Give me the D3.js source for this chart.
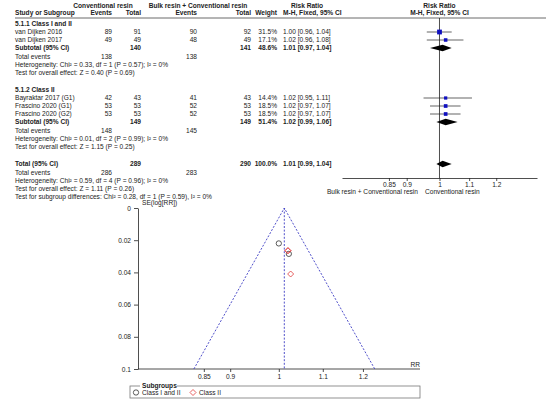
<!DOCTYPE html>
<html>
<head>
<meta charset="utf-8">
<script src="https://cdn.jsdelivr.net/npm/d3@7"></script>
<style>
  body { margin: 0; background: #fff; }
  svg { font-family: "Liberation Sans", Arial, sans-serif; }
  text { fill: #222; }
</style>
</head>
<body>
<div id="chart"></div>
<script>
// chart size
const width = 550
const height = 406
const fs = 6.6

// study level data
const studies = ["van Dijken 2016", "van Dijken 2017", "Bayraktar 2017 (G1)", "Frascino 2020 (G1)", "Frascino 2020 (G2)"]
const groups = [0, 0, 1, 1, 1]
const convEvents = [89, 49, 42, 53, 53]
const convTotal = [91, 49, 43, 53, 53]
const bulkEvents = [90, 48, 41, 52, 52]
const bulkTotal = [92, 49, 43, 53, 53]
const weights = [31.5, 17.1, 14.4, 18.5, 18.5]
const rr = [1.00, 1.02, 1.02, 1.02, 1.02]
const ciLow = [0.96, 0.96, 0.95, 0.97, 0.97]
const ciHigh = [1.04, 1.08, 1.11, 1.07, 1.07]

// subgroup data
const subgroupNames = ["5.1.1 Class I and II", "5.1.2 Class II"]
const subConvTotal = [140, 149]
const subBulkTotal = [141, 149]
const subWeight = [48.6, 51.4]
const subRR = [1.01, 1.02]
const subLow = [0.97, 0.99]
const subHigh = [1.04, 1.06]
const subConvEvents = [138, 148]
const subBulkEvents = [138, 145]
const subHet = ["Chi² = 0.33, df = 1 (P = 0.57); I² = 0%", "Chi² = 0.01, df = 2 (P = 0.99); I² = 0%"]
const subZ = ["Z = 0.40 (P = 0.69)", "Z = 1.15 (P = 0.25)"]

// overall
const totConvTotal = 289
const totBulkTotal = 290
const totWeight = 100.0
const totRR = 1.01
const totLow = 0.99
const totHigh = 1.04
const totConvEvents = 286
const totBulkEvents = 283
const totHet = "Chi² = 0.59, df = 4 (P = 0.96); I² = 0%"
const totZ = "Z = 1.11 (P = 0.26)"
const subgroupDiff = "Chi² = 0.28, df = 1 (P = 0.59), I² = 0%"

// axis ticks
const forestTicks = [0.85, 0.9, 1, 1.1, 1.2]
const funnelXTicks = [0.85, 0.9, 1, 1.1, 1.2]
const funnelYTicks = [0, 0.02, 0.04, 0.06, 0.08, 0.1]

// funnel plot points
const funnelRR = [1.00, 1.022, 1.026, 1.02, 1.02]
const funnelSE = [0.022, 0.0285, 0.041, 0.0265, 0.0265]
const pooledRR = 1.012
const subgroupLabels = ["Class I and II", "Class II"]

const fmt = d3.format(".2f")
const ciText = (r, l, h) => fmt(r) + " [" + fmt(l) + ", " + fmt(h) + "]"
const pct = d => d3.format(".1f")(d) + "%"

const chart = d3.select('#chart')
  .append('svg')
  .attr('width', width)
  .attr('height', height)

// column positions
const col = { name: 15, ce: 112, ct: 141, be: 197, bt: 251, w: 277, ci: 283 }

const txt = function (x, y, s, anchor, bold) {
  return chart.append('text')
    .attr('x', x).attr('y', y)
    .attr('dy', '0.35em')
    .attr('font-size', fs)
    .attr('text-anchor', anchor || 'start')
    .attr('font-weight', bold ? 'bold' : 'normal')
    .text(s)
}

// forest scale
const fx = d3.scaleLog().domain([0.731, 1.368]).range([342, 537])

// headers
txt(103, 6, "Conventional resin", 'middle', true)
txt(198, 6, "Bulk resin + Conventional resin", 'middle', true)
txt(307, 6, "Risk Ratio", 'middle', true)
txt(fx(1), 6, "Risk Ratio", 'middle', true)
txt(col.name, 13, "Study or Subgroup", 'start', true)
txt(col.ce, 13, "Events", 'end', true)
txt(col.ct, 13, "Total", 'end', true)
txt(col.be, 13, "Events", 'end', true)
txt(col.bt, 13, "Total", 'end', true)
txt(col.w, 13, "Weight", 'end', true)
txt(col.ci, 13, "M-H, Fixed, 95% CI", 'start', true)
txt(fx(1), 13, "M-H, Fixed, 95% CI", 'middle', true)

chart.append('line')
  .attr('x1', 15).attr('x2', 546)
  .attr('y1', 18).attr('y2', 18)
  .attr('stroke', '#444').attr('stroke-width', 0.8)

// vertical line of no effect
chart.append('line')
  .attr('x1', fx(1)).attr('x2', fx(1))
  .attr('y1', 18).attr('y2', 178)
  .attr('stroke', '#222').attr('stroke-width', 0.8)

const diamond = function (y, r, l, h, hh) {
  chart.append('path')
    .attr('d', 'M' + fx(l) + ',' + y + 'L' + fx(r) + ',' + (y - hh) + 'L' + fx(h) + ',' + y + 'L' + fx(r) + ',' + (y + hh) + 'Z')
    .attr('fill', '#000')
}

let y = 24
subgroupNames.forEach(function (g, gi) {
  txt(col.name, y, g, 'start', true)
  y += 8
  studies.forEach(function (s, i) {
    if (groups[i] !== gi) return
    txt(col.name, y, s)
    txt(col.ce, y, convEvents[i], 'end')
    txt(col.ct, y, convTotal[i], 'end')
    txt(col.be, y, bulkEvents[i], 'end')
    txt(col.bt, y, bulkTotal[i], 'end')
    txt(col.w, y, pct(weights[i]), 'end')
    txt(col.ci, y, ciText(rr[i], ciLow[i], ciHigh[i]))
    chart.append('line')
      .attr('x1', fx(ciLow[i])).attr('x2', fx(ciHigh[i]))
      .attr('y1', y).attr('y2', y)
      .attr('stroke', '#222').attr('stroke-width', 0.7)
    const side = 4.8 * Math.sqrt(weights[i] / 31.5)
    chart.append('rect')
      .attr('x', fx(rr[i]) - side / 2).attr('y', y - side / 2)
      .attr('width', side).attr('height', side)
      .attr('fill', '#0f0fc0')
    y += 8
  })
  txt(col.name, y, "Subtotal (95% CI)", 'start', true)
  txt(col.ct, y, subConvTotal[gi], 'end', true)
  txt(col.bt, y, subBulkTotal[gi], 'end', true)
  txt(col.w, y, pct(subWeight[gi]), 'end', true)
  txt(col.ci, y, ciText(subRR[gi], subLow[gi], subHigh[gi]), 'start', true)
  diamond(y, subRR[gi], subLow[gi], subHigh[gi], 3.2)
  y += 9
  txt(col.name, y, "Total events")
  txt(col.ce, y, subConvEvents[gi], 'end')
  txt(col.be, y, subBulkEvents[gi], 'end')
  y += 8
  txt(col.name, y, "Heterogeneity: " + subHet[gi])
  y += 8
  txt(col.name, y, "Test for overall effect: " + subZ[gi])
  y += 17
})

y = 164
txt(col.name, y, "Total (95% CI)", 'start', true)
txt(col.ct, y, totConvTotal, 'end', true)
txt(col.bt, y, totBulkTotal, 'end', true)
txt(col.w, y, pct(totWeight), 'end', true)
txt(col.ci, y, ciText(totRR, totLow, totHigh), 'start', true)
diamond(y, totRR, totLow, totHigh, 3.2)
txt(col.name, 173, "Total events")
txt(col.ce, 173, totConvEvents, 'end')
txt(col.be, 173, totBulkEvents, 'end')
txt(col.name, 181, "Heterogeneity: " + totHet)
txt(col.name, 189, "Test for overall effect: " + totZ)
txt(col.name, 197, "Test for subgroup differences: " + subgroupDiff)

// forest axis
const fAxis = chart.append('g')
  .attr('transform', 'translate(0,178)')
  .call(d3.axisBottom(fx).tickValues(forestTicks).tickFormat(d => String(d)).tickSize(3).tickSizeOuter(0))
fAxis.selectAll('path, line').attr('stroke', '#222').attr('stroke-width', 0.8)
fAxis.selectAll('text').attr('font-size', fs).attr('fill', '#222').attr('y', 4)
txt(418, 192, "Bulk resin + Conventional resin", 'end')
txt(425, 192, "Conventional resin", 'start')

// funnel plot
const px = d3.scaleLog().domain([0.737, 1.358]).range([138, 420])
const py = d3.scaleLinear().domain([0, 0.1]).range([208, 369])

const yAxis = chart.append('g')
  .attr('transform', 'translate(138,0)')
  .call(d3.axisLeft(py).tickValues(funnelYTicks).tickFormat(d => String(d)).tickSize(4).tickSizeOuter(0))
const xAxis = chart.append('g')
  .attr('transform', 'translate(0,369)')
  .call(d3.axisBottom(px).tickValues(funnelXTicks).tickFormat(d => String(d)).tickSize(3).tickSizeOuter(0))
xAxis.select('.domain').attr('d', 'M138,0H420')
chart.selectAll('.tick text').attr('font-size', fs).attr('fill', '#222')
yAxis.selectAll('path, line').attr('stroke', '#222').attr('stroke-width', 0.8)
xAxis.selectAll('path, line').attr('stroke', '#222').attr('stroke-width', 0.8)
xAxis.selectAll('text').attr('y', 5)
txt(142, 203, "SE(log[RR])")
txt(420, 365, "RR", 'end')

// funnel lines
const seMax = 0.1
const funnelPts = [
  [pooledRR * Math.exp(-1.96 * seMax), seMax],
  [pooledRR, 0],
  [pooledRR * Math.exp(1.96 * seMax), seMax]
]
chart.append('path')
  .attr('d', d3.line().x(d => px(d[0])).y(d => py(d[1]))(funnelPts))
  .attr('fill', 'none').attr('stroke', '#3c3cc4').attr('stroke-width', 0.9)
  .attr('stroke-dasharray', '2,1.6')
chart.append('line')
  .attr('x1', px(pooledRR)).attr('x2', px(pooledRR))
  .attr('y1', py(0)).attr('y2', py(seMax))
  .attr('stroke', '#3c3cc4').attr('stroke-width', 0.9)
  .attr('stroke-dasharray', '2,1.6')

const circleSym = d3.symbol().type(d3.symbolCircle).size(22)
const diamondPath = s => 'M0,' + (-s) + 'L' + s + ',0L0,' + s + 'L' + (-s) + ',0Z'

studies.forEach(function (s, i) {
  const g = chart.append('g')
    .attr('transform', 'translate(' + px(funnelRR[i]) + ',' + py(funnelSE[i]) + ')')
  if (groups[i] === 0) {
    g.append('path').attr('d', circleSym()).attr('fill', 'none').attr('stroke', '#333').attr('stroke-width', 0.8)
  } else {
    g.append('path').attr('d', diamondPath(3)).attr('fill', 'none').attr('stroke', '#e03a3a').attr('stroke-width', 0.8)
  }
})

// legend
chart.append('rect')
  .attr('x', 130).attr('y', 386).attr('width', 290).attr('height', 12)
  .attr('fill', 'none').attr('stroke', '#777').attr('stroke-width', 0.8)
chart.append('rect')
  .attr('x', 140).attr('y', 382).attr('width', 37).attr('height', 7)
  .attr('fill', '#fff')
txt(142, 385.5, "Subgroups", 'start', true).attr('fill', '#334')
chart.append('path').attr('transform', 'translate(136,392.5)')
  .attr('d', circleSym()).attr('fill', 'none').attr('stroke', '#333').attr('stroke-width', 0.8)
txt(142, 392.5, subgroupLabels[0])
chart.append('path').attr('transform', 'translate(193,392.5)')
  .attr('d', diamondPath(3)).attr('fill', 'none').attr('stroke', '#e03a3a').attr('stroke-width', 0.8)
txt(199, 392.5, subgroupLabels[1])
</script>
</body>
</html>
